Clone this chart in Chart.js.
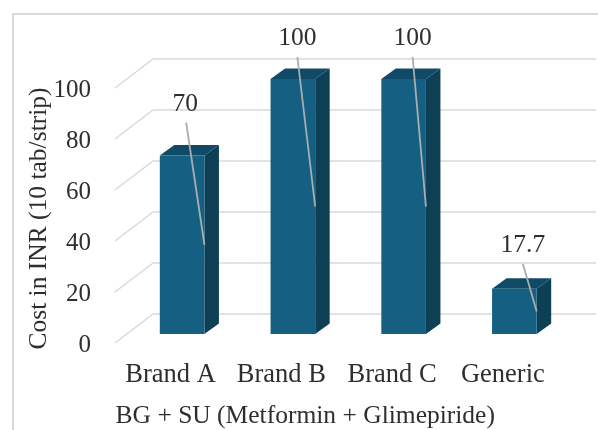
<!DOCTYPE html>
<html>
<head>
<meta charset="utf-8">
<style>
html,body{margin:0;padding:0;background:#fff}
#wrap{position:relative;width:598px;height:430px;overflow:hidden}
canvas{display:block;filter:blur(0.5px)}
</style>
<script src="https://cdn.jsdelivr.net/npm/chart.js@4/dist/chart.umd.min.js"></script>
</head>
<body>
<div id="wrap"><canvas id="c" width="598" height="430"></canvas></div>
<script>
// Data
const categories = ["Brand A", "Brand B", "Brand C", "Generic"];
const costs = [70, 100, 100, 17.7];
const costLabels = ["70", "100", "100", "17.7"];
const yTicks = [0, 20, 40, 60, 80, 100];
const yTitle = "Cost in INR (10 tab/strip)";
const xTitle = "BG + SU (Metformin + Glimepiride)";

// Style
const FONT = "'Liberation Serif', serif";
const INK = "#2e2e2e";
const FRONT = "#156082", SIDE = "#0d3f55", TOP = "#0f4a66";
const DEPTH_X = 14.5, DEPTH_Y = 10.5;
const labelDx = [3, 4.5, 9, 8.5];
const labelDy = [-51, -41, -41, -44];
const leaderGap = [18, 19, 19, 19];

const scene = {
  id: "scene",
  beforeDraw(chart) {
    const { ctx } = chart;
    ctx.save();
    ctx.fillStyle = "#fff";
    ctx.fillRect(0, 0, chart.width, chart.height);
    ctx.strokeStyle = "#d9d9d9";
    ctx.lineWidth = 2;
    ctx.beginPath();
    ctx.moveTo(13, chart.height);
    ctx.lineTo(13, 14);
    ctx.lineTo(chart.width, 14);
    ctx.stroke();
    ctx.restore();
  },
  beforeDatasetsDraw(chart) {
    const { ctx } = chart;
    const y = chart.scales.y;
    ctx.save();
    // floor/wall gridlines, derived from the value scale
    y.ticks.forEach(t => {
      const p = y.getPixelForValue(t.value);
      ctx.strokeStyle = "#d9d9d9";
      ctx.lineWidth = 1.5;
      ctx.beginPath();
      ctx.moveTo(115, p + 9);
      ctx.lineTo(153, p - 20);
      ctx.stroke();
      ctx.strokeStyle = "#e2e2e2";
      ctx.lineWidth = 2;
      ctx.beginPath();
      ctx.moveTo(153, p - 20);
      ctx.lineTo(596, p - 20);
      ctx.stroke();
    });
    // 3D faces of each bar
    chart.getDatasetMeta(0).data.forEach(bar => {
      const l = bar.x - bar.width / 2, r = bar.x + bar.width / 2;
      const t = bar.y, b = bar.base;
      ctx.fillStyle = SIDE;
      ctx.beginPath();
      ctx.moveTo(r, t);
      ctx.lineTo(r + DEPTH_X, t - DEPTH_Y);
      ctx.lineTo(r + DEPTH_X, b - DEPTH_Y);
      ctx.lineTo(r, b);
      ctx.closePath();
      ctx.fill();
      ctx.fillStyle = TOP;
      ctx.beginPath();
      ctx.moveTo(l, t);
      ctx.lineTo(l + DEPTH_X, t - DEPTH_Y);
      ctx.lineTo(r + DEPTH_X, t - DEPTH_Y);
      ctx.lineTo(r, t);
      ctx.closePath();
      ctx.fill();
    });
    ctx.restore();
  },
  afterDatasetsDraw(chart) {
    const { ctx } = chart;
    const y = chart.scales.y;
    ctx.save();
    ctx.textAlign = "center";
    ctx.textBaseline = "middle";
    ctx.font = "25.5px " + FONT;
    chart.getDatasetMeta(0).data.forEach((bar, i) => {
      const lx = bar.x + labelDx[i], ly = bar.y + labelDy[i];
      ctx.strokeStyle = "#a9adb0";
      ctx.lineWidth = 1.8;
      ctx.beginPath();
      ctx.moveTo(lx + (i === 0 ? 1 : 0), ly + leaderGap[i]);
      ctx.lineTo(bar.x + bar.width / 2, y.getPixelForValue(costs[i] / 2));
      ctx.stroke();
      ctx.fillStyle = INK;
      ctx.fillText(costLabels[i], lx, ly);
    });
    ctx.restore();
  },
  afterLayout(chart) {
    // shift the axis titles to their place off the axis centre
    [["x", -43, 2], ["y", 24, 12]].forEach(([id, dx, dy]) => {
      const s = chart.scales[id];
      if (s.__shifted) return;
      s.__shifted = true;
      const orig = s.drawTitle;
      s.drawTitle = function () {
        const c = this.ctx;
        c.save();
        c.translate(dx, dy);
        orig.apply(this, arguments);
        c.restore();
      };
    });
  }
};

new Chart(document.getElementById("c"), {
  type: "bar",
  data: {
    labels: categories,
    datasets: [{
      data: costs,
      backgroundColor: FRONT,
      borderWidth: 0,
      barPercentage: 0.403,
      categoryPercentage: 1
    }]
  },
  options: {
    responsive: false,
    animation: false,
    layout: { padding: { left: 0, right: 28.25, top: 79, bottom: 0 } },
    plugins: { legend: { display: false }, tooltip: { enabled: false }, title: { display: false } },
    scales: {
      x: {
        afterFit(s) { s.height = 96; },
        grid: { display: false, drawTicks: false },
        border: { display: false },
        ticks: {
          color: INK,
          font: { family: FONT, size: 26.5 },
          padding: 25,
          labelOffset: -11.5,
          maxRotation: 0,
          minRotation: 0,
          autoSkip: false
        },
        title: {
          display: true,
          text: xTitle,
          color: INK,
          font: { family: FONT, size: 25.5 },
          padding: { top: 0, bottom: 0 }
        }
      },
      y: {
        min: 0,
        max: 100,
        afterFit(s) { s.width = 126.75; },
        afterBuildTicks(s) { s.ticks = yTicks.map(v => ({ value: v })); },
        grid: { display: false, drawTicks: false },
        border: { display: false },
        ticks: {
          color: INK,
          font: { family: FONT, size: 25 },
          padding: 35.75,
          labelOffset: 11
        },
        title: {
          display: true,
          text: yTitle,
          color: INK,
          font: { family: FONT, size: 25.5 },
          padding: { top: 0, bottom: 0 }
        }
      }
    }
  },
  plugins: [scene]
});
</script>
</body>
</html>
